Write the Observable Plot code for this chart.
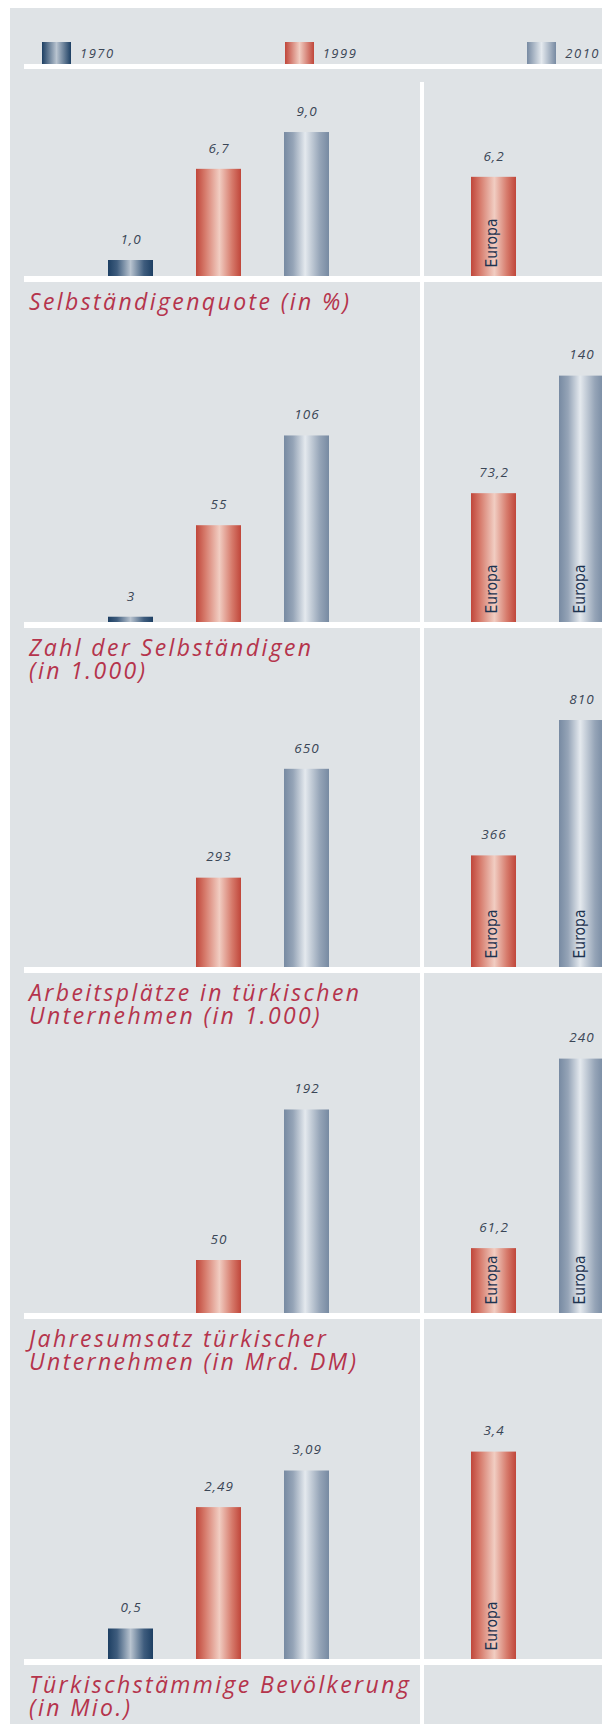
<!DOCTYPE html>
<html>
<head>
<meta charset="utf-8">
<script src="https://cdn.jsdelivr.net/npm/d3@7"></script>
<script src="https://cdn.jsdelivr.net/npm/@observablehq/plot@0.6"></script>
<style>
  html, body { margin: 0; padding: 0; background: #ffffff; }
  body { width: 602px; height: 1724px; overflow: hidden; position: relative; font-family: "Open Sans", sans-serif; }
  #bg { position: absolute; left: 10px; top: 8px; right: 0; bottom: 0; background: #dfe3e6; }
  .hline { position: absolute; left: 24px; right: 0; height: 6px; background: #ffffff; }
  #vline { position: absolute; left: 420px; width: 4px; top: 82px; bottom: 0; background: #ffffff; }
  svg.title { position: absolute; left: 0; overflow: visible; }
  svg.title text { font-family: "Open Sans", sans-serif; font-style: italic; font-size: 23px; letter-spacing: 2.4px; fill: #b5344c; }
  #legend { position: absolute; left: 42px; top: 42px; width: 558px; height: 22px; display: flex; justify-content: space-between; align-items: center; }
  .item { display: flex; align-items: center; }
  .sw { width: 29px; height: 22px; margin-right: 9px; }
  .lt { font-style: italic; font-size: 13px; color: #3c4656; letter-spacing: 1.5px; }
</style>
</head>
<body>
<svg width="0" height="0" style="position:absolute">
  <defs>
    <linearGradient id="grad1970" x1="0" x2="1" y1="0" y2="0">
      <stop offset="0" stop-color="#1d3f63"/>
      <stop offset="0.2" stop-color="#3f5d7e"/>
      <stop offset="0.5" stop-color="#b9c4d0"/>
      <stop offset="0.8" stop-color="#3f5d7e"/>
      <stop offset="1" stop-color="#1d3f63"/>
    </linearGradient>
    <linearGradient id="grad1999" x1="0" x2="1" y1="0" y2="0">
      <stop offset="0" stop-color="#c0463a"/>
      <stop offset="0.2" stop-color="#d67a6b"/>
      <stop offset="0.52" stop-color="#f1cdc2"/>
      <stop offset="0.8" stop-color="#d67a6b"/>
      <stop offset="1" stop-color="#c0463a"/>
    </linearGradient>
    <linearGradient id="grad2010" x1="0" x2="1" y1="0" y2="0">
      <stop offset="0" stop-color="#778aa2"/>
      <stop offset="0.2" stop-color="#95a4b7"/>
      <stop offset="0.47" stop-color="#e4e9ee"/>
      <stop offset="0.8" stop-color="#95a4b7"/>
      <stop offset="1" stop-color="#778aa2"/>
    </linearGradient>
  </defs>
</svg>
<div id="bg"></div>
<div id="legend"></div>
<div id="vline"></div>
<script>
// ---- data ----
const years = ["1970", "1999", "2010"];
const regions = ["Deutschland", "Europa"];
const titles = [
  ["Selbständigenquote (in %)"],
  ["Zahl der Selbständigen", "(in 1.000)"],
  ["Arbeitsplätze in türkischen", "Unternehmen (in 1.000)"],
  ["Jahresumsatz türkischer", "Unternehmen (in Mrd. DM)"],
  ["Türkischstämmige Bevölkerung", "(in Mio.)"]
];
const deValues = [[1.0, 6.7, 9.0], [3, 55, 106], [null, 293, 650], [null, 50, 192], [0.5, 2.49, 3.09]];
const deLabels = [["1,0", "6,7", "9,0"], ["3", "55", "106"], [null, "293", "650"], [null, "50", "192"], ["0,5", "2,49", "3,09"]];
const euValues = [[null, 6.2, null], [null, 73.2, 140], [null, 366, 810], [null, 61.2, 240], [null, 3.4, null]];
const euLabels = [[null, "6,2", null], [null, "73,2", "140"], [null, "366", "810"], [null, "61,2", "240"], [null, "3,4", null]];
const euTag = "Europa";

// ---- layout (not data) ----
const panels = [
  {base: 276, height: 207, yMax: 12.94},
  {base: 622, height: 340, yMax: 193.2},
  {base: 967, height: 340, yMax: 1115},
  {base: 1313, height: 341, yMax: 321.7},
  {base: 1659, height: 341, yMax: 5.59}
];

// legend
const legend = document.getElementById("legend");
const swatchStops = {"1970": ["#1d3f63", "#b9c4d0"], "1999": ["#c0463a", "#f1cdc2"], "2010": ["#778aa2", "#e4e9ee"]};
years.forEach(yr => {
  const it = document.createElement("div");
  it.className = "item";
  const sw = document.createElement("div");
  sw.className = "sw";
  const s = swatchStops[yr];
  sw.style.background = `linear-gradient(to right, ${s[0]}, ${s[1]}, ${s[0]})`;
  const t = document.createElement("span");
  t.className = "lt";
  t.textContent = yr;
  it.appendChild(sw); it.appendChild(t);
  legend.appendChild(it);
});
const legLine = document.createElement("div");
legLine.className = "hline";
legLine.style.top = "64px";
legLine.style.height = "5px";
document.body.appendChild(legLine);

panels.forEach((P, i) => {
  const rows = [];
  years.forEach((yr, j) => {
    if (deValues[i][j] != null) rows.push({region: "Deutschland", year: yr, value: deValues[i][j], label: deLabels[i][j]});
    if (euValues[i][j] != null) rows.push({region: "Europa", year: yr, value: euValues[i][j], label: euLabels[i][j]});
  });
  const chart = Plot.plot({
    width: 602,
    height: P.height,
    marginTop: 0, marginBottom: 0, marginLeft: 107, marginRight: -3.5,
    style: {background: "transparent", overflow: "visible"},
    fx: {domain: regions, paddingInner: 0.1906, paddingOuter: 0, axis: null, label: null},
    x: {domain: years, paddingInner: 0.4873, paddingOuter: 0, axis: null},
    y: {domain: [0, P.yMax], axis: null},
    marks: [
      ...years.map(yr => Plot.barY(rows.filter(d => d.year === yr), {fx: "region", x: "year", y: "value", fill: `url(#grad${yr})`})),
      Plot.text(rows, {fx: "region", x: "year", y: "value", text: "label", dy: -21, fontSize: 13.5, fontStyle: "italic", fill: "#3a4656", fontFamily: "Open Sans"}),
      Plot.text(rows.filter(d => d.region === "Europa"), {fx: "region", x: "year", y: 0, text: () => euTag, rotate: -90, textAnchor: "start", dy: -9, dx: -2, fontSize: 15.5, fill: "#1d3350", fontFamily: "DejaVu Sans Condensed"})
    ]
  });
  chart.style.position = "absolute";
  chart.style.left = "0px";
  chart.style.top = (P.base - P.height) + "px";
  d3.select(chart).selectAll("text").filter(function() { return this.textContent !== euTag; }).style("letter-spacing", "1px");
  document.body.appendChild(chart);

  const line = document.createElement("div");
  line.className = "hline";
  line.style.top = P.base + "px";
  document.body.appendChild(line);

  // panel title below the baseline, as one multi-line SVG text
  const ts = d3.create("svg").attr("class", "title").attr("width", 420).attr("height", 60)
    .style("top", (P.base + 6) + "px");
  const tx = ts.append("text").attr("x", 29).attr("y", 28);
  titles[i].forEach((line, k) => {
    tx.append("tspan").attr("x", 29).attr("dy", k === 0 ? 0 : 23).text(line);
  });
  document.body.appendChild(ts.node());
});
</script>
</body>
</html>
